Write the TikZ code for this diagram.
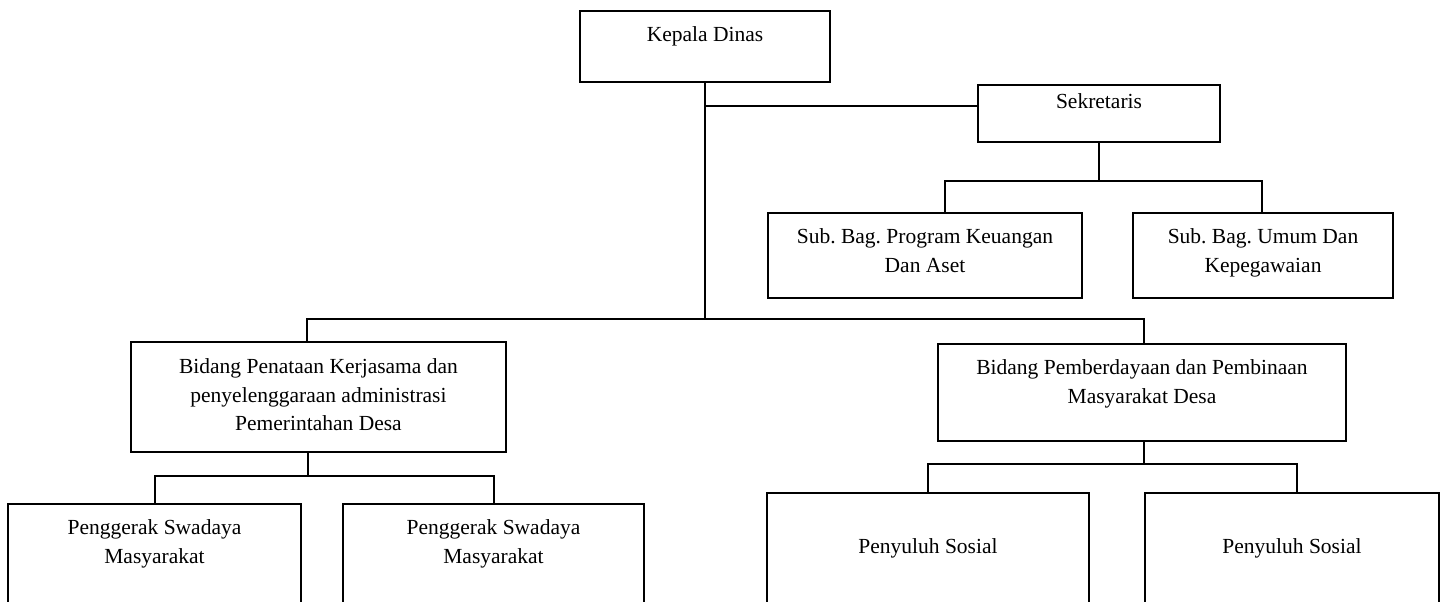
\documentclass[tikz,border=0pt]{standalone}
\usepackage{fontspec}
\setmainfont{Liberation Serif}
\usetikzlibrary{calc}
\frenchspacing

\begin{document}
\begin{tikzpicture}[x=1pt,y=-1pt,
    kotak/.style={draw, line width=1.6pt, anchor=north, align=flush center, inner sep=0pt,
      text height=31pt, font=\fontsize{21.5}{28.5}\selectfont},
    garis/.style={line width=1.6pt}]

        % Frame
        \useasboundingbox (0,0) rectangle (1446,602);
        \clip (0,0) rectangle (1446,602);

        % Top
        \node[kotak, text width=250pt, text depth=40pt] (kepala) at (705,10) {Kepala Dinas};
        \node[kotak, text width=242pt, text height=24pt, text depth=33pt] (sekre) at (1099,84) {Sekretaris};
        \node[kotak, text width=314pt, text depth=54pt] (subprog) at (925,212) {Sub. Bag. Program Keuangan\\Dan Aset};
        \node[kotak, text width=260pt, text depth=54pt] (subumum) at (1263,212) {Sub. Bag. Umum Dan\\Kepegawaian};

        % Bidang
        \node[kotak, text width=375pt, text height=32pt, text depth=78pt] (bidtata) at (318.5,341)
          {Bidang Penataan Kerjasama dan\\penyelenggaraan administrasi\\Pemerintahan Desa};
        \node[kotak, text width=408pt, text depth=66pt] (bidberdaya) at (1142,343)
          {Bidang Pemberdayaan dan Pembinaan\\Masyarakat Desa};

        % Bottom
        \node[kotak, text width=293pt, text depth=100pt] (psm1) at (154.5,503) {Penggerak Swadaya\\Masyarakat};
        \node[kotak, text width=301pt, text depth=100pt] (psm2) at (493.5,503) {Penggerak Swadaya\\Masyarakat};
        \node[kotak, text width=322pt, text height=61pt, text depth=80pt] (ps1) at (928,492) {Penyuluh Sosial};
        \node[kotak, text width=294pt, text height=61pt, text depth=80pt] (ps2) at (1292,492) {Penyuluh Sosial};

        % Lines from Kepala Dinas
        \coordinate (cabang) at (705,106);
        \coordinate (kiri) at (307,319);
        \coordinate (kanan) at (1144,319);
        \draw[garis] (kepala.south) -- (kepala.south |- kiri);
        \draw[garis] (cabang) -- (sekre.west |- cabang);
        \draw[garis] (bidtata.north -| kiri) -- (kiri) -- (kanan) -- (bidberdaya.north -| kanan);

        % Lines from Sekretaris
        \coordinate (sek1) at (945,181);
        \coordinate (sek2) at (1262,181);
        \draw[garis] (sekre.south) -- (sekre.south |- sek1);
        \draw[garis] (subprog.north -| sek1) -- (sek1) -- (sek2) -- (subumum.north -| sek2);

        % Lines from Bidang
        \coordinate (tata1) at (155,476);
        \coordinate (tata2) at (494,476);
        \coordinate (daya1) at (928,464);
        \coordinate (daya2) at (1297,464);
        \draw[garis] ($(bidtata.south -| kiri)+(1,0)$) -- ($(kiri |- tata1)+(1,0)$);
        \draw[garis] (psm1.north -| tata1) -- (tata1) -- (tata2) -- (psm2.north -| tata2);
        \draw[garis] (bidberdaya.south -| kanan) -- (kanan |- daya1);
        \draw[garis] (ps1.north -| daya1) -- (daya1) -- (daya2) -- (ps2.north -| daya2);

\end{tikzpicture}
\end{document}
